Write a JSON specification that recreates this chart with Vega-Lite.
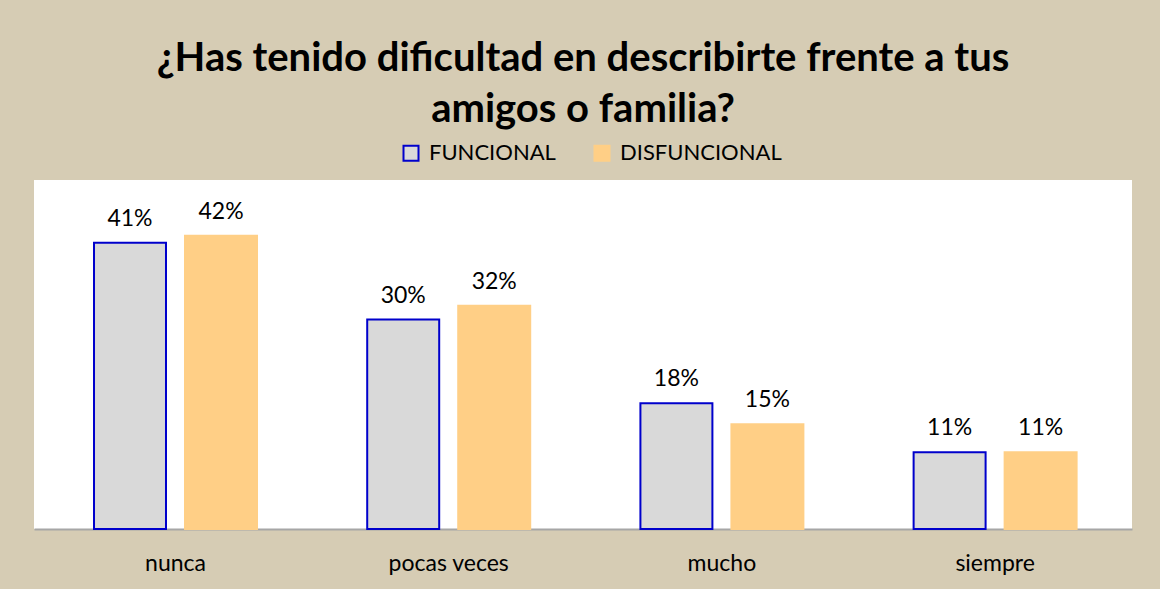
{
  "$schema": "https://vega.github.io/schema/vega-lite/v6.json",
  "width": 1098,
  "height": 349,
  "autosize": {"type": "none"},
  "padding": {"left": 34, "top": 180, "right": 28, "bottom": 60},
  "background": "#d6ccb4",
  "title": {
    "text": ["¿Has tenido dificultad en describirte frente a tus", "amigos o familia?"],
    "font": "Lato",
    "fontSize": 40,
    "fontWeight": "bold",
    "lineHeight": 51,
    "anchor": "middle",
    "offset": 12,
    "color": "black"
  },
  "data": {
    "values": [
      {"categoria": "nunca", "grupo": "FUNCIONAL", "valor": 0.41},
      {"categoria": "nunca", "grupo": "DISFUNCIONAL", "valor": 0.42},
      {"categoria": "pocas veces", "grupo": "FUNCIONAL", "valor": 0.30},
      {"categoria": "pocas veces", "grupo": "DISFUNCIONAL", "valor": 0.32},
      {"categoria": "mucho", "grupo": "FUNCIONAL", "valor": 0.18},
      {"categoria": "mucho", "grupo": "DISFUNCIONAL", "valor": 0.15},
      {"categoria": "siempre", "grupo": "FUNCIONAL", "valor": 0.11},
      {"categoria": "siempre", "grupo": "DISFUNCIONAL", "valor": 0.11}
    ]
  },
  "encoding": {
    "x": {
      "field": "categoria",
      "type": "nominal",
      "sort": ["nunca", "pocas veces", "mucho", "siempre"],
      "scale": {"paddingInner": 0.4034, "paddingOuter": 0.2112, "align": 0.52},
      "axis": {
        "title": null,
        "labelAngle": 0,
        "labelFont": "Lato",
        "labelFontSize": 23,
        "labelColor": "black",
        "ticks": false,
        "domainColor": "#a6a6a6",
        "domainWidth": 2,
        "labelPadding": 23
      }
    },
    "xOffset": {
      "field": "grupo",
      "type": "nominal",
      "sort": ["FUNCIONAL", "DISFUNCIONAL"],
      "scale": {"paddingInner": 0.209, "paddingOuter": 0}
    },
    "y": {
      "field": "valor",
      "type": "quantitative",
      "scale": {"domain": [0, 0.5]},
      "axis": null
    }
  },
  "layer": [
    {
      "mark": {"type": "bar", "strokeWidth": 2},
      "encoding": {
        "fill": {
          "field": "grupo",
          "type": "nominal",
          "sort": ["FUNCIONAL", "DISFUNCIONAL"],
          "scale": {"domain": ["FUNCIONAL", "DISFUNCIONAL"], "range": ["#d9d9d9", "#ffcf86"]},
          "legend": {"title": null}
        },
        "stroke": {
          "field": "grupo",
          "type": "nominal",
          "sort": ["FUNCIONAL", "DISFUNCIONAL"],
          "scale": {"domain": ["FUNCIONAL", "DISFUNCIONAL"], "range": ["#0000cc", "#ffcf86"]},
          "legend": {"title": null}
        }
      }
    },
    {
      "mark": {"type": "text", "dy": -17, "baseline": "alphabetic", "font": "Lato", "fontSize": 23, "color": "black"},
      "encoding": {
        "text": {"field": "valor", "type": "quantitative", "format": ".0%"}
      }
    }
  ],
  "config": {
    "view": {"fill": "white", "stroke": null},
    "legend": {
      "orient": "none",
      "legendX": 366,
      "legendY": -38,
      "direction": "horizontal",
      "symbolType": "square",
      "symbolSize": 225,
      "symbolStrokeWidth": 2,
      "labelFont": "Lato",
      "labelFontSize": 22,
      "labelColor": "black",
      "labelLimit": 400,
      "columnPadding": 34,
      "labelOffset": 7
    }
  }
}
